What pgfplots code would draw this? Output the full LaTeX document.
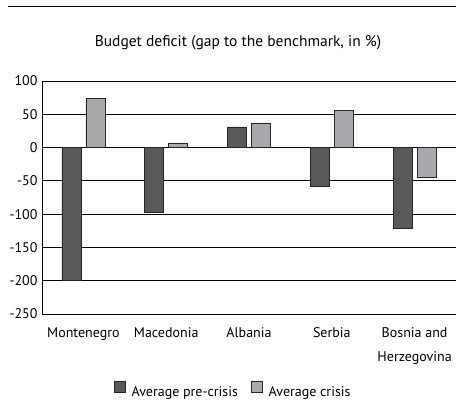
\documentclass[border=0pt]{standalone}
\usepackage{pgfplots}
\pgfplotsset{compat=1.18}
\usepackage{fontspec}
\setmainfont{PT Sans}
\definecolor{pre}{HTML}{58595B}
\definecolor{cri}{HTML}{A7A9AC}
\begin{document}
\begin{tikzpicture}[x=1bp,y=1bp, font=\fontsize{14bp}{20bp}\selectfont]
\path[use as bounding box] (0,0) rectangle (456,407);
\draw[line width=0.9bp] (8,401) -- (456,401);
\node at (238,364) {\fontsize{15.5bp}{18bp}\selectfont Budget deficit (gap to the benchmark, in \%)};
\begin{axis}[
  at={(42bp,93bp)}, anchor=south west,
  scale only axis, width=414bp, height=233bp,
  xmin=-0.5, xmax=4.5, ymin=-250, ymax=100,
  ytick={-250,-200,...,100},
  xtick={0,1,2,3,4},
  xticklabels={Montenegro,Macedonia,Albania,Serbia,{Bosnia and\\Herzegovina}},
  xticklabel style={align=center, yshift=-10bp, font=\fontsize{14bp}{24bp}\selectfont},
  yticklabel style={font=\fontsize{14bp}{17bp}\selectfont, xshift=-1bp},
  axis x line=bottom, axis y line=left,
  axis line style={-, line width=0.9bp},
  ymajorgrids, grid style={black, line width=0.9bp},
  major tick length=0pt,
  /pgf/number format/assume math mode=true,
  legend style={at={(0.462,-0.328)}, anchor=center, draw=none, legend columns=2,
    /tikz/every odd column/.append style={column sep=4bp},
    /tikz/every even column/.append style={column sep=11bp},
    font=\fontsize{14bp}{17bp}\selectfont},
  clip=false,
]
\addplot[ybar, bar width=19bp, bar shift=-12bp, fill=pre, draw=black!85, line width=0.7bp, forget plot]
  coordinates {(0,-200) (1,-97) (2,31) (3,-58) (4,-122)};
\addplot[ybar, bar width=19bp, bar shift=12bp, fill=cri, draw=black!85, line width=0.7bp, forget plot]
  coordinates {(0,74) (1,7) (2,37) (3,56) (4,-44)};
\addlegendimage{legend image code/.code={\draw[fill=pre, draw=black!85, line width=0.7bp] (0bp,-0.5bp) rectangle (11bp,10.5bp);}}
\addlegendimage{legend image code/.code={\draw[fill=cri, draw=black!85, line width=0.7bp] (0bp,-0.5bp) rectangle (11bp,10.5bp);}}
\legend{Average pre-crisis, Average crisis}
\end{axis}
\end{tikzpicture}
\end{document}
